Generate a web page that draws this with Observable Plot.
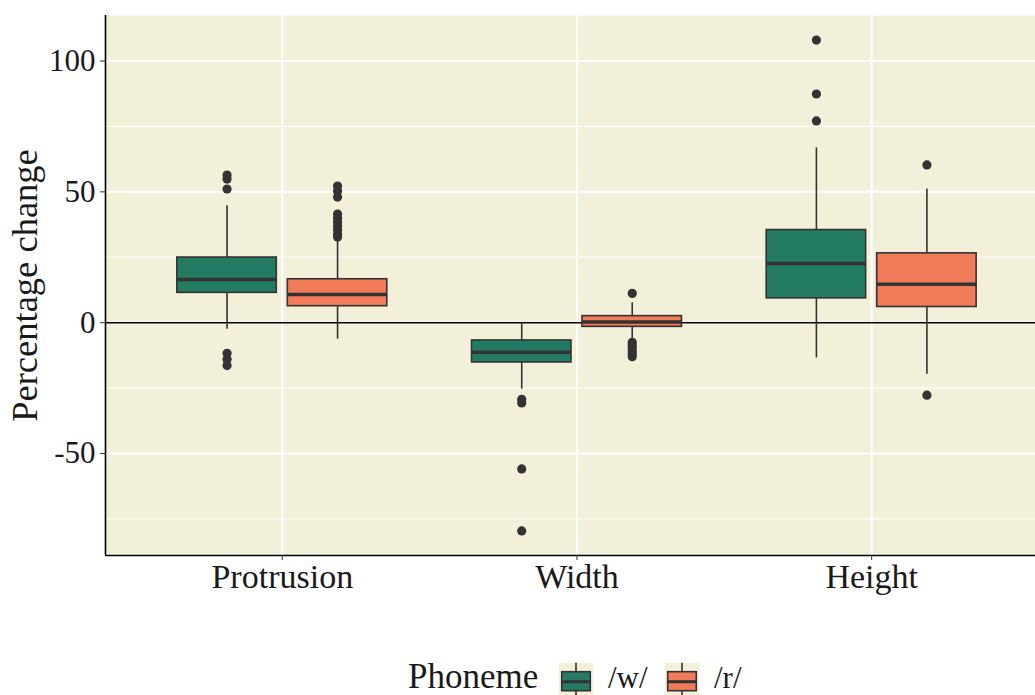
<!DOCTYPE html>
<html>
<head>
<meta charset="utf-8">
<script src="https://cdn.jsdelivr.net/npm/d3@7"></script>
<script src="https://cdn.jsdelivr.net/npm/@observablehq/plot@0.6"></script>
<style>
  html, body { margin: 0; padding: 0; background: #ffffff; overflow: hidden; }
  #wrap { position: relative; width: 1035px; height: 695px; overflow: hidden; }
  #legend { position: absolute; left: 0; top: 640px; }
  text { font-family: "Liberation Serif", serif; }
</style>
</head>
<body>
<div id="wrap"><div id="chart"></div><div id="legend"></div></div>
<script>
// ---- data ----
const categories = ["Protrusion", "Width", "Height"];
const phonemes = ["/w/", "/r/"];
const phonemeColors = ["#237b64", "#f27c5a"];
const yTicks = [100, 50, 0, -50];
const yMinorTicks = [75, 25, -25, -75];

const boxCategory = ["Protrusion", "Protrusion", "Width", "Width", "Height", "Height"];
const boxPhoneme  = ["/w/", "/r/", "/w/", "/r/", "/w/", "/r/"];
const whiskerLow  = [-2.5, -6.3, -25.4, -6.0, -13.5, -19.7];
const q1          = [11.4, 6.3, -15.2, -1.6, 9.3, 6.0];
const median      = [16.5, 10.8, -11.3, 0.3, 22.6, 14.7];
const q3          = [24.9, 16.6, -6.8, 2.5, 35.4, 26.5];
const whiskerHigh = [44.7, 31.3, -0.1, 7.6, 66.8, 51.1];
const outliers = [
  [56.4, 54.9, 51.1, -11.7, -14.0, -16.4],
  [52.2, 50.3, 48.0, 41.5, 39.9, 38.4, 36.9, 35.4, 33.8, 32.7],
  [-29.3, -30.7, -55.9, -79.6],
  [11.2, -7.5, -8.6, -9.7, -10.8, -11.9, -13.0],
  [108.0, 87.4, 77.1],
  [60.3, -27.7]
];

// ---- layout helpers (dodge like ggplot: group width 0.75, box width 0.9 of half) ----
const dodge = 0.75 / 4;
const halfBox = 0.75 / 2 * 0.9 / 2;
const xPos = (cat, ph) => categories.indexOf(cat) + 1 + (phonemes.indexOf(ph) === 0 ? -dodge : dodge);

const boxes = boxCategory.map((c, i) => ({
  category: c, phoneme: boxPhoneme[i], x: xPos(c, boxPhoneme[i]),
  lo: whiskerLow[i], q1: q1[i], median: median[i], q3: q3[i], hi: whiskerHigh[i]
}));
const outlierPts = boxes.flatMap((b, i) => outliers[i].map(v => ({x: b.x, y: v, phoneme: b.phoneme})));

const xDomain = [0.4, 3.556];
const yDomain = [-88.98, 117.4];
const bg = "#f3f0da";
const ink = "#333333";
const txt = "#1a1a1a";

const chart = Plot.plot({
  width: 1035,
  height: 640,
  marginTop: 15,
  marginBottom: 85,
  marginLeft: 105,
  marginRight: 0,
  style: {fontFamily: "Liberation Serif, serif", background: "#ffffff", overflow: "visible"},
  x: {domain: xDomain, axis: null},
  y: {domain: yDomain, axis: null},
  color: {domain: phonemes, range: phonemeColors},
  marks: [
    Plot.frame({fill: bg, stroke: null}),
    Plot.ruleY(yMinorTicks, {stroke: "#ffffff", strokeWidth: 1}),
    Plot.ruleY(yTicks, {stroke: "#ffffff", strokeWidth: 2}),
    Plot.ruleX([1, 2, 3], {stroke: "#ffffff", strokeWidth: 2}),
    Plot.ruleY([0], {stroke: "#000000", strokeWidth: 1.6}),
    Plot.ruleX(boxes, {x: "x", y1: "lo", y2: "q1", stroke: ink, strokeWidth: 1.6}),
    Plot.ruleX(boxes, {x: "x", y1: "q3", y2: "hi", stroke: ink, strokeWidth: 1.6}),
    Plot.rect(boxes, {x1: d => d.x - halfBox, x2: d => d.x + halfBox, y1: "q1", y2: "q3",
      fill: "phoneme", stroke: ink, strokeWidth: 1.6}),
    Plot.ruleY(boxes, {y: "median", x1: d => d.x - halfBox, x2: d => d.x + halfBox, stroke: ink, strokeWidth: 3.5}),
    Plot.dot(outlierPts, {x: "x", y: "y", r: 4.6, fill: ink, stroke: null}),
    Plot.ruleX([xDomain[0]], {stroke: "#000000", strokeWidth: 1.6}),
    Plot.ruleY([yDomain[0]], {stroke: "#000000", strokeWidth: 1.6}),
    Plot.axisY(yTicks, {tickSize: 5, tickPadding: 5, fontSize: 31, stroke: ink, fill: txt,
      tickFormat: d => String(d), label: null}),
    Plot.axisX([1, 2, 3], {tickSize: 5, tickPadding: 3, fontSize: 34, stroke: ink, fill: txt,
      tickFormat: d => categories[d - 1], label: null}),
    Plot.text(["Percentage change"], {frameAnchor: "left", textAnchor: "middle", lineAnchor: "middle",
      rotate: -90, dx: -80, fontSize: 36.5, fill: txt})
  ]
});
document.getElementById("chart").appendChild(chart);

// ---- legend (below the plot) ----
const lg = d3.select("#legend").append("svg").attr("width", 1035).attr("height", 62)
  .style("font-family", "Liberation Serif, serif");
const base = 47.5;
lg.append("text").attr("x", 408).attr("y", base).attr("font-size", 35).attr("fill", txt).text("Phoneme");
const keyX = [559, 665];
const labelX = [608, 714];
phonemes.forEach((p, i) => {
  const x0 = keyX[i], w = 34, cx = x0 + w / 2;
  lg.append("rect").attr("x", x0).attr("y", 22.7).attr("width", w).attr("height", 40).attr("fill", bg);
  lg.append("line").attr("x1", cx).attr("x2", cx).attr("y1", 22.7).attr("y2", 62).attr("stroke", ink).attr("stroke-width", 1.6);
  lg.append("rect").attr("x", x0 + 2.7).attr("y", 31.7).attr("width", w - 5.4).attr("height", 19)
    .attr("fill", phonemeColors[i]).attr("stroke", ink).attr("stroke-width", 1.6);
  lg.append("line").attr("x1", x0 + 2.7).attr("x2", x0 + w - 2.7).attr("y1", 41.7).attr("y2", 41.7)
    .attr("stroke", ink).attr("stroke-width", 3);
  lg.append("text").attr("x", labelX[i]).attr("y", base).attr("font-size", 31).attr("fill", txt).text(p);
});
</script>
</body>
</html>
